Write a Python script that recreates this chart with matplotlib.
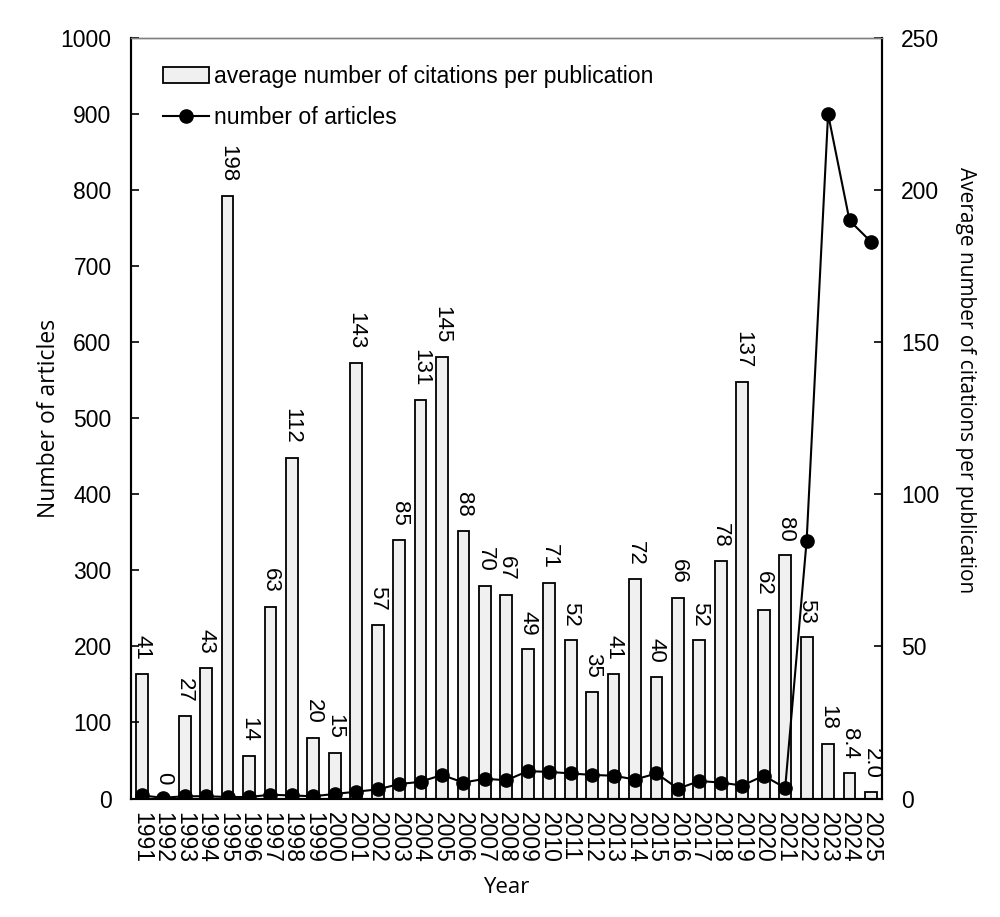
import matplotlib
matplotlib.use("Agg")
import matplotlib.pyplot as plt
import numpy as np

years = list(range(1991, 2026))
citations = [41, 0, 27, 43, 198, 14, 63, 112, 20, 15, 143, 57, 85, 131, 145, 88, 70, 67,
             49, 71, 52, 35, 41, 72, 40, 66, 52, 78, 137, 62, 80, 53, 18, 8.4, 2.0]
articles = [4, 1, 3, 3, 2, 2, 5, 4, 3, 6, 9, 12, 19, 22, 31, 21, 26, 24,
            36, 35, 33, 31, 30, 25, 33, 13, 23, 21, 17, 30, 14, 339, 900, 760, 732]

tickfont = "Liberation Sans"
titlefont = "Open Sans"

def fmt(v):
    if v == 0:
        return "0"
    if v < 10:
        return f"{v:.1f}"
    return f"{v:.0f}"

fig = plt.figure(figsize=(10, 9.17), dpi=100)
ax = fig.add_axes([0.131, 0.1292, 0.7507, 0.8294])
ax2 = ax.twinx()

x = np.arange(len(years))
bars = ax2.bar(x, citations, width=0.55, color="#f0f0f0", edgecolor="black",
               linewidth=1.3, label="average number of citations per publication")
for xi, v in zip(x, citations):
    ax2.annotate(fmt(v), (xi, v), xytext=(0, 10), textcoords="offset points",
                 rotation=270, ha="center", va="bottom", fontsize=16, family=tickfont)

line, = ax.plot(x, articles, color="black", marker="o", markersize=9.5, linewidth=1.5,
                label="number of articles")

ax.set_zorder(ax2.get_zorder() + 1)
ax.patch.set_visible(False)

ax.set_xlim(-0.5, len(years) - 0.5)
ax.set_ylim(0, 1000)
ax2.set_ylim(0, 250)
ax.set_yticks(range(0, 1001, 100))
ax2.set_yticks(range(0, 251, 50))
ax.set_xticks(x)
ax.set_xticklabels([str(y) for y in years], rotation=270, fontsize=16.5, family=tickfont)
for lab in ax.get_yticklabels():
    lab.set_fontsize(16.5)
    lab.set_family(tickfont)
for lab in ax2.get_yticklabels():
    lab.set_fontsize(16.5)
    lab.set_family(tickfont)

ax.tick_params(axis="y", direction="in", length=6, width=1.2, pad=14)
ax2.tick_params(axis="y", direction="in", length=6, width=1.2, pad=14)
ax.tick_params(axis="x", length=0, pad=10)

for a in (ax, ax2):
    for s in ("left", "right", "bottom"):
        a.spines[s].set_linewidth(1.5)
    a.spines["top"].set_color("#808080")
    a.spines["top"].set_linewidth(1.0)

ax.set_ylabel("Number of articles", fontsize=16.5, family=titlefont, labelpad=0)
ax2.set_ylabel("Average number of citations per publication", fontsize=15,
               family=titlefont, rotation=270, ha="center", va="center")
ax2.yaxis.set_label_coords(1.111, 0.55)
ax.set_xlabel("Year", fontsize=16, family=titlefont, labelpad=10)

ax.legend([bars, line], [bars.get_label(), line.get_label()], loc="upper left",
          bbox_to_anchor=(0.042, 0.964), frameon=False, borderpad=0, borderaxespad=0,
          handlelength=2.0, handletextpad=0.25, labelspacing=0.75,
          prop={"family": tickfont, "size": 16.6})

fig.savefig("out.png", dpi=100)
